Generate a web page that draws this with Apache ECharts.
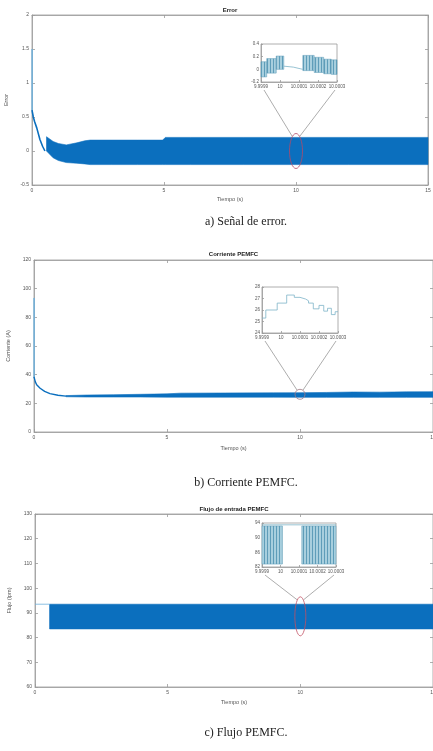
<!DOCTYPE html>
<html><head><meta charset="utf-8">
<script src="https://cdn.jsdelivr.net/npm/echarts@6/dist/echarts.min.js"></script>
<style>html,body{margin:0;padding:0;background:#fff}#c{width:433px;height:751px}</style>
</head><body><div id="c"></div>
<script>
// ================= DATA =================
// Axis ranges [min, max, interval]
const mainXRange = [0, 15, 5];
const errYRange = [-0.5, 2, 0.5];
const curYRange = [0, 120, 20];
const flowYRange = [60, 130, 10];
const insetXRange = [9.9999, 10.0003, 0.0001];
const errInYRange = [-0.2, 0.4, 0.2];
const curInYRange = [24, 28, 1];
const flowInYRange = [82, 94, 4];

// a) Error
const errSpikeT = [0, 0.004, 0.008];
const errSpikeV = [0.6, 1.5, 0.6];
const errDecayT = [0, 0.05, 0.1, 0.18, 0.3, 0.4, 0.49];
const errDecayV = [0.6, 0.5, 0.43, 0.34, 0.17, 0.07, 0.0];
const errBandT  = [0.55, 0.8, 1.0, 1.3, 1.7, 2.0, 2.2, 3.0, 4.0, 4.95, 5.05, 6.0, 8.0, 10.0, 12.0, 15.0];
const errBandHi = [0.21, 0.14, 0.11, 0.09, 0.12, 0.15, 0.16, 0.16, 0.16, 0.16, 0.2, 0.2, 0.2, 0.2, 0.2, 0.2];
const errBandLo = [0.0, -0.1, -0.14, -0.17, -0.18, -0.19, -0.2, -0.2, -0.2, -0.2, -0.2, -0.2, -0.2, -0.2, -0.2, -0.2];
// a) inset
const errInSegStart = [9.9999, 9.99993, 9.99998, 10.00012, 10.00018, 10.00023, 10.00027];
const errInSegEnd   = [9.99993, 9.99998, 10.00002, 10.00018, 10.00023, 10.00027, 10.0003];
const errInSegHi    = [0.12, 0.17, 0.21, 0.22, 0.19, 0.16, 0.15];
const errInSegLo    = [-0.12, -0.06, 0.0, -0.02, -0.05, -0.07, -0.08];
const errInGapT = [10.00002, 10.00007, 10.00012];
const errInGapV = [0.05, 0.035, 0.0];

// b) Corriente
const curSpikeT = [0, 0.004, 0.008];
const curSpikeV = [38, 93.5, 38];
const curDecayT = [0, 0.05, 0.1, 0.23, 0.4, 0.6, 0.9, 1.2];
const curDecayV = [38.5, 35, 33, 30.5, 28.3, 26.8, 25.6, 25.0];
const curBandT  = [1.2, 2, 3, 4, 5, 5.5, 7, 9, 10, 11, 12, 13, 14, 15];
const curBandHi = [25.4, 25.8, 26.0, 26.3, 26.6, 27.1, 27.2, 27.3, 27.4, 27.6, 27.9, 27.8, 28.0, 28.1];
const curBandLo = [24.6, 24.4, 24.4, 24.4, 24.3, 24.3, 24.3, 24.3, 24.2, 24.2, 24.2, 24.2, 24.2, 24.2];
// b) inset (step boundaries and step values)
const curInT = [9.9999, 9.99992, 9.99998, 10.00003, 10.00007, 10.0001, 10.00013, 10.000145, 10.00017, 10.0002, 10.000225, 10.000245, 10.000265, 10.000285, 10.0003];
const curInV = [25.3, 26.0, 26.6, 27.3, 27.1, 26.95, 26.8, 26.6, 26.1, 26.4, 25.9, 26.15, 25.6, 25.85];

// c) Flujo
const flowPreT = [0, 0.55];
const flowPreV = [93.5, 93.5];
const flowBandT  = [0.55, 15];
const flowBandHi = [93.5, 93.5];
const flowBandLo = [83.5, 83.5];
// c) inset
const flowInSegStart = [9.9999, 10.000115];
const flowInSegEnd   = [10.00001, 10.0003];
const flowInSegHi    = [93.2, 93.2];
const flowInSegLo    = [82.8, 82.8];
const flowInTopT = [9.9999, 10.0003];
const flowInTopV = [93.5, 93.5];

// Zoom markers (data coordinates of ellipse centres)
const errMark = [10, 0];
const curMark = [10, 26.3];
const flowMark = [10, 88.6];

// Texts
const titles = ['Error', 'Corriente PEMFC', 'Flujo de entrada PEMFC'];
const yNames = ['Error', 'Corriente (A)', 'Flujo (lpm)'];
const xName = 'Tiempo (s)';
const captions = ['a) Señal de error.', 'b) Corriente PEMFC.', 'c) Flujo PEMFC.'];

// ================= STYLE / BUILD =================
const FONT = '"Liberation Sans", Arial, sans-serif';
const SERIF = '"Liberation Serif", "Times New Roman", serif';
const AX = '#9a9a9a', LAB = '#555';
const C_BAND = '#0b6fbe', C_LIGHT = '#6fb1dc', C_INSET = '#7db4c8';

const zip = (a, b) => a.map((v, i) => [v, b[i]]);
const fmtIn = v => String(parseFloat((+v).toFixed(4)));

function mkPattern() {
  const cv = document.createElement('canvas');
  cv.width = 3; cv.height = 4;
  const g = cv.getContext('2d');
  g.fillStyle = '#a8cfde'; g.fillRect(0, 0, 3, 4);
  g.fillStyle = '#5f9db9'; g.fillRect(0, 0, 1, 4);
  return { type: 'pattern', image: cv, repeat: 'repeat' };
}
const PATTERN = mkPattern();

function ax(grid, range, z, extra) {
  const o = {
    type: 'value', gridIndex: grid, min: range[0], max: range[1], interval: range[2], z: z,
    axisLine: { show: true, onZero: false, lineStyle: { color: AX, width: 0.8 } },
    axisTick: { show: true, inside: true, length: 3, lineStyle: { color: AX, width: 0.8 } },
    splitLine: { show: false },
    axisLabel: { show: true, fontSize: 5, color: LAB, margin: 3, fontFamily: FONT, showMinLabel: true, showMaxLabel: true },
    nameTextStyle: { fontSize: 5.5, color: LAB, fontFamily: FONT }
  };
  return Object.assign(o, extra || {});
}
const noLab = { show: false };

const grids = [
  { left: 32, top: 15, width: 396, height: 170, z: 0 },
  { left: 34, top: 260, width: 399, height: 172, z: 0 },
  { left: 35, top: 514, width: 398, height: 173, z: 0 },
  { left: 261, top: 44, width: 76, height: 38, z: 5 },
  { left: 262, top: 287, width: 76, height: 46, z: 5 },
  { left: 262, top: 523, width: 74, height: 44, z: 5 }
].map(g => Object.assign(g, { show: true, backgroundColor: '#fff', borderColor: AX, borderWidth: 0.8, containLabel: false, outerBoundsMode: 'none' }));

const xNameGaps = [11, 13, 12];
const yNameGaps = [15, 16, 16];
const yRanges = [errYRange, curYRange, flowYRange];
const xAxis = [], yAxis = [];
for (let i = 0; i < 3; i++) {
  xAxis.push(ax(i, mainXRange, 0, { position: 'bottom', name: xName, nameLocation: 'middle', nameGap: xNameGaps[i] }));
  xAxis.push(ax(i, mainXRange, 0, { position: 'top', axisLabel: noLab }));
  yAxis.push(ax(i, yRanges[i], 0, { position: 'left', name: yNames[i], nameLocation: 'middle', nameGap: yNameGaps[i], nameRotate: 90 }));
  yAxis.push(ax(i, yRanges[i], 0, { position: 'right', axisLabel: noLab }));
}
const inYRanges = [errInYRange, curInYRange, flowInYRange];
for (let i = 0; i < 3; i++) {
  const xa = ax(3 + i, insetXRange, 7, { position: 'bottom' });
  xa.axisLabel = Object.assign({}, xa.axisLabel, { fontSize: 4.5, margin: 2, formatter: fmtIn });
  xa.axisTick = Object.assign({}, xa.axisTick, { length: 2 });
  xAxis.push(xa);
  const ya = ax(3 + i, inYRanges[i], 7, { position: 'left' });
  ya.axisLabel = Object.assign({}, ya.axisLabel, { fontSize: 4.5, margin: 2 });
  ya.axisTick = Object.assign({}, ya.axisTick, { length: 2 });
  yAxis.push(ya);
}
const MX = i => 2 * i, MY = i => 2 * i, IX = i => 6 + i, IY = i => 6 + i;

function lineS(xi, yi, data, color, width, z) {
  return {
    type: 'line', xAxisIndex: xi, yAxisIndex: yi, data: data, symbol: 'none', silent: true,
    lineStyle: { color: color, width: width }, animation: false, z: z
  };
}
// envelope band drawn as polygon through axis scales
function bandS(i, T, lo, hi) {
  return {
    type: 'custom', xAxisIndex: MX(i), yAxisIndex: MY(i), silent: true, animation: false, z: 2,
    data: [[T[0], lo[0]]], encode: { x: 0, y: 1 },
    renderItem: (params, api) => {
      const pts = [];
      for (let k = 0; k < T.length; k++) pts.push(api.coord([T[k], hi[k]]));
      for (let k = T.length - 1; k >= 0; k--) pts.push(api.coord([T[k], lo[k]]));
      return { type: 'polygon', shape: { points: pts }, style: { fill: C_BAND, stroke: C_BAND, lineWidth: 0.6 } };
    }
  };
}
function rectS(i, s, e, lo, hi) {
  return {
    type: 'custom', xAxisIndex: IX(i), yAxisIndex: IY(i), silent: true, animation: false, z: 8,
    data: s.map((v, k) => [v, e[k], lo[k], hi[k]]),
    encode: { x: [0, 1], y: [2, 3] },
    renderItem: (params, api) => {
      const p0 = api.coord([api.value(0), api.value(3)]);
      const p1 = api.coord([api.value(1), api.value(2)]);
      return { type: 'rect', shape: { x: p0[0], y: p0[1], width: p1[0] - p0[0], height: p1[1] - p0[1] },
        style: { fill: PATTERN, stroke: '#5f9db9', lineWidth: 0.5 } };
    }
  };
}
function stepPts(T, V) {
  const out = [];
  V.forEach((v, k) => { out.push([T[k], v]); out.push([T[k + 1], v]); });
  return out;
}

const series = [
  // a)
  lineS(MX(0), MY(0), zip(errSpikeT, errSpikeV), C_LIGHT, 1, 3),
  lineS(MX(0), MY(0), zip(errDecayT, errDecayV), C_BAND, 1.6, 3),
  bandS(0, errBandT, errBandLo, errBandHi),
  rectS(0, errInSegStart, errInSegEnd, errInSegLo, errInSegHi),
  lineS(IX(0), IY(0), zip(errInGapT, errInGapV), C_INSET, 0.8, 8),
  // b)
  lineS(MX(1), MY(1), zip(curSpikeT, curSpikeV), C_LIGHT, 1, 3),
  lineS(MX(1), MY(1), zip(curDecayT, curDecayV), C_BAND, 1.4, 3),
  bandS(1, curBandT, curBandLo, curBandHi),
  lineS(IX(1), IY(1), stepPts(curInT, curInV), C_INSET, 0.8, 8),
  // c)
  lineS(MX(2), MY(2), zip(flowPreT, flowPreV), C_LIGHT, 0.8, 3),
  bandS(2, flowBandT, flowBandLo, flowBandHi),
  rectS(2, flowInSegStart, flowInSegEnd, flowInSegLo, flowInSegHi),
  lineS(IX(2), IY(2), zip(flowInTopT, flowInTopV), C_INSET, 0.8, 8)
];

const chart = echarts.init(document.getElementById('c'), null, { renderer: 'canvas', width: 433, height: 751 });
chart.setOption({
  animation: false,
  backgroundColor: '#fff',
  textStyle: { fontFamily: FONT },
  grid: grids, xAxis: xAxis, yAxis: yAxis, series: series
});

// ---- annotations computed from axes ----
const titleY = [10, 254, 509];
const captionY = [222, 483, 733];
const marks = [
  { c: errMark, rx: 6.5, ry: 17.5, col: '#b24a68' },
  { c: curMark, rx: 5, ry: 5, col: '#a37b84' },
  { c: flowMark, rx: 5.5, ry: 19.5, col: '#c24f62' }
];
const graphic = [];
for (let i = 0; i < 3; i++) {
  const l = chart.convertToPixel({ xAxisIndex: MX(i), yAxisIndex: MY(i) }, [mainXRange[0], yRanges[i][0]]);
  const r = chart.convertToPixel({ xAxisIndex: MX(i), yAxisIndex: MY(i) }, [mainXRange[1], yRanges[i][1]]);
  const cx = (l[0] + Math.min(r[0], 433)) / 2;
  graphic.push({ type: 'text', x: cx, y: titleY[i], z: 100, style: { text: titles[i], font: 'bold 6px ' + FONT, fill: '#222', textAlign: 'center', textVerticalAlign: 'middle' } });
  graphic.push({ type: 'text', x: 246, y: captionY[i], z: 100, style: { text: captions[i], font: '12px ' + SERIF, fill: '#222', textAlign: 'center', textVerticalAlign: 'middle' } });
  const m = marks[i];
  const p = chart.convertToPixel({ xAxisIndex: MX(i), yAxisIndex: MY(i) }, m.c);
  graphic.push({ type: 'ellipse', z: 100, shape: { cx: p[0], cy: p[1], rx: m.rx, ry: m.ry }, style: { fill: 'none', stroke: m.col, lineWidth: 0.8 } });
  const bl = chart.convertToPixel({ xAxisIndex: IX(i), yAxisIndex: IY(i) }, [insetXRange[0], inYRanges[i][0]]);
  const br = chart.convertToPixel({ xAxisIndex: IX(i), yAxisIndex: IY(i) }, [insetXRange[1], inYRanges[i][0]]);
  const ey = p[1] - m.ry * 0.85;
  graphic.push({ type: 'line', z: 100, shape: { x1: bl[0] + 3, y1: bl[1] + 8, x2: p[0] - m.rx * 0.6, y2: ey }, style: { stroke: '#8a8a8a', lineWidth: 0.7 } });
  graphic.push({ type: 'line', z: 100, shape: { x1: br[0] - 2, y1: br[1] + 8, x2: p[0] + m.rx * 0.6, y2: ey }, style: { stroke: '#8a8a8a', lineWidth: 0.7 } });
}
chart.setOption({ graphic: graphic });
</script>
</body></html>
